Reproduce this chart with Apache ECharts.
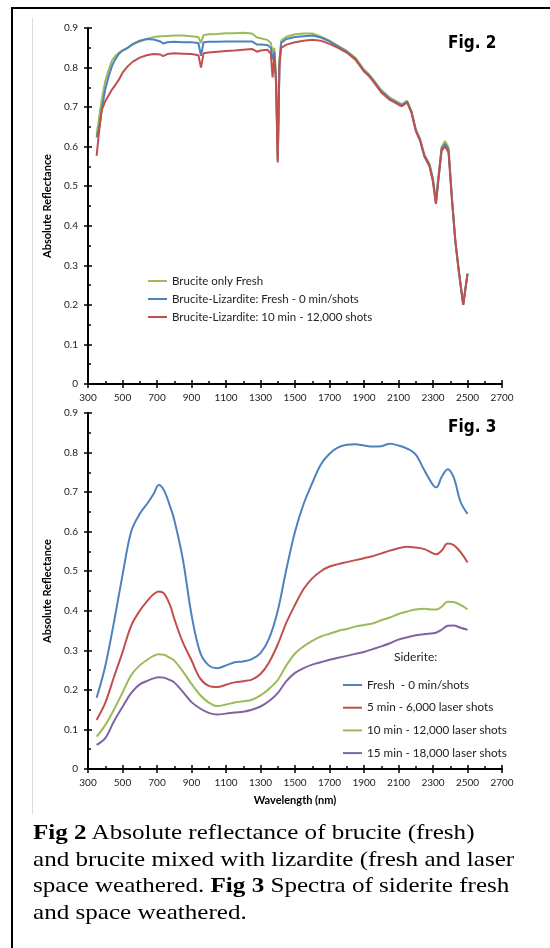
<!DOCTYPE html>
<html>
<head>
<meta charset="utf-8">
<script src="https://cdn.jsdelivr.net/npm/echarts@6/dist/echarts.min.js"></script>
<style>
html,body{margin:0;padding:0;background:#fff;}
#wrap{position:relative;width:550px;height:948px;overflow:hidden;}
#chart{position:absolute;left:0;top:0;width:550px;height:948px;}
#frameL{position:absolute;left:11px;top:7px;width:2px;height:941px;background:#000;}
#frameT{position:absolute;left:11px;top:7px;width:539px;height:2px;background:#000;}
#gray{position:absolute;left:32px;top:18px;width:1px;height:796px;background:#dcdcdc;}
#caption{position:absolute;left:33px;top:819px;width:460px;font-family:"Liberation Serif","Times New Roman",serif;font-size:22px;line-height:26.7px;color:#000;white-space:nowrap;transform:scaleX(1.14);transform-origin:0 0;}
</style>
</head>
<body>
<div id="wrap">
<div id="frameL"></div><div id="frameT"></div><div id="gray"></div>
<div id="chart"></div>
<div id="caption"><b>Fig 2</b> Absolute reflectance of brucite (fresh)<br>and brucite mixed with lizardite (fresh and laser<br>space weathered. <b>Fig 3</b> Spectra of siderite fresh<br>and space weathered.</div>
</div>
<script>
// ---------- Fig. 2 data ----------
const wl2 = [350,360,370,380,400,420,440,460,480,500,530,560,600,640,680,720,735,760,800,850,900,940,955,970,1000,1050,1100,1150,1200,1250,1280,1290,1300,1340,1360,1370,1380,1390,1400,1410,1420,1450,1500,1550,1600,1650,1700,1750,1800,1850,1900,1925,1950,2000,2050,2100,2120,2150,2175,2200,2225,2250,2280,2300,2317,2330,2350,2370,2390,2410,2430,2450,2475,2500];
const bruciteFresh = [0.63,0.66,0.69,0.72,0.765,0.795,0.818,0.83,0.838,0.843,0.85,0.858,0.866,0.872,0.877,0.879,0.879,0.88,0.881,0.881,0.879,0.877,0.862,0.882,0.884,0.885,0.887,0.887,0.888,0.886,0.876,0.873,0.874,0.87,0.862,0.84,0.85,0.78,0.57,0.82,0.868,0.878,0.884,0.886,0.886,0.878,0.868,0.855,0.842,0.825,0.795,0.785,0.772,0.743,0.724,0.712,0.707,0.716,0.69,0.645,0.62,0.58,0.556,0.52,0.46,0.52,0.6,0.614,0.598,0.47,0.36,0.285,0.2,0.28];
const lizFresh = [0.623,0.64,0.66,0.695,0.745,0.778,0.805,0.822,0.835,0.843,0.85,0.86,0.868,0.872,0.871,0.866,0.861,0.864,0.865,0.864,0.864,0.862,0.83,0.864,0.865,0.865,0.866,0.866,0.866,0.866,0.858,0.853,0.858,0.857,0.85,0.82,0.84,0.77,0.565,0.815,0.862,0.872,0.877,0.879,0.881,0.876,0.866,0.853,0.84,0.822,0.792,0.782,0.769,0.74,0.721,0.709,0.705,0.714,0.688,0.642,0.617,0.577,0.553,0.515,0.457,0.515,0.595,0.607,0.592,0.467,0.358,0.283,0.2,0.279];
const liz10min = [0.577,0.62,0.66,0.693,0.715,0.73,0.745,0.757,0.77,0.787,0.803,0.815,0.825,0.831,0.834,0.833,0.829,0.834,0.836,0.835,0.834,0.831,0.8,0.836,0.838,0.84,0.842,0.843,0.845,0.847,0.84,0.836,0.843,0.845,0.835,0.775,0.83,0.76,0.56,0.805,0.85,0.858,0.864,0.868,0.87,0.868,0.86,0.85,0.838,0.82,0.79,0.78,0.767,0.737,0.718,0.706,0.702,0.712,0.686,0.64,0.615,0.575,0.55,0.51,0.455,0.51,0.59,0.601,0.585,0.465,0.36,0.285,0.2,0.278];
const names2 = ['Brucite only Fresh','Brucite-Lizardite: Fresh - 0 min/shots','Brucite-Lizardite: 10 min - 12,000 shots'];

// ---------- Fig. 3 data ----------
const wl3 = [350,400,450,500,550,600,650,680,710,740,775,800,850,900,950,1000,1050,1100,1150,1200,1250,1300,1350,1400,1450,1500,1550,1600,1650,1700,1750,1800,1850,1900,1950,2000,2050,2100,2150,2200,2250,2300,2320,2350,2385,2420,2460,2500];
const sidFresh = [0.18,0.26,0.37,0.49,0.6,0.645,0.675,0.695,0.718,0.705,0.665,0.63,0.53,0.39,0.295,0.262,0.255,0.262,0.27,0.272,0.278,0.293,0.33,0.4,0.505,0.6,0.67,0.723,0.77,0.797,0.813,0.82,0.821,0.818,0.815,0.816,0.822,0.818,0.81,0.795,0.755,0.718,0.712,0.738,0.758,0.737,0.675,0.645];
const sid5 = [0.124,0.167,0.232,0.295,0.362,0.4,0.428,0.442,0.449,0.444,0.415,0.38,0.32,0.275,0.229,0.21,0.207,0.213,0.219,0.222,0.226,0.24,0.27,0.315,0.37,0.415,0.455,0.482,0.5,0.512,0.518,0.523,0.528,0.533,0.538,0.545,0.552,0.558,0.562,0.56,0.556,0.545,0.543,0.552,0.57,0.566,0.548,0.522];
const sid10 = [0.082,0.111,0.15,0.193,0.237,0.262,0.278,0.286,0.29,0.289,0.281,0.274,0.247,0.215,0.187,0.168,0.159,0.163,0.168,0.171,0.175,0.186,0.203,0.225,0.262,0.292,0.31,0.324,0.335,0.342,0.349,0.354,0.36,0.364,0.368,0.376,0.383,0.392,0.398,0.403,0.405,0.403,0.403,0.41,0.423,0.422,0.415,0.404];
const sid15 = [0.061,0.078,0.12,0.157,0.192,0.214,0.224,0.229,0.232,0.231,0.225,0.219,0.195,0.169,0.153,0.142,0.138,0.14,0.143,0.145,0.15,0.158,0.172,0.192,0.222,0.243,0.255,0.264,0.27,0.276,0.281,0.286,0.291,0.296,0.303,0.31,0.318,0.327,0.333,0.338,0.341,0.343,0.345,0.352,0.362,0.363,0.357,0.352];
const names3 = ['Fresh  - 0 min/shots','5 min - 6,000 laser shots','10 min - 12,000 laser shots','15 min - 18,000 laser shots'];

const xTicks = {min:300, max:2700, interval:200};
const yTicks = {min:0, max:0.9, interval:0.1};

const C = {green:'#9bbb59', blue:'#4f81bd', red:'#c0504d', purple:'#8064a2'};
const FONT = 'Lato';

function pairs(x, y){ return x.map((v,i)=>[v,y[i]]); }

function xAxesFor(gi, withName){
  const a = {type:'value', gridIndex:gi, position:'bottom', min:xTicks.min, max:xTicks.max, interval:xTicks.interval,
    axisLine:{show:true, onZero:false, lineStyle:{color:'#000', width:2}},
    axisTick:{show:true, inside:false, length:4, lineStyle:{color:'#000', width:1.5}},
    axisLabel:{fontSize:10, color:'#222', margin:9, fontFamily:FONT, formatter:v=>String(v)},
    splitLine:{show:false}};
  if (withName){
    a.name = 'Wavelength (nm)'; a.nameLocation = 'middle'; a.nameGap = 26;
    a.nameTextStyle = {fontSize:11, fontWeight:'bold', color:'#000', fontFamily:FONT};
  }
  const b = {type:'value', gridIndex:gi, position:'bottom', offset:0, min:xTicks.min, max:xTicks.max, interval:xTicks.interval,
    axisLine:{show:false, onZero:false}, axisLabel:{show:false}, splitLine:{show:false},
    axisTick:{show:true, inside:true, length:4, lineStyle:{color:'#000', width:1.5}},
    minorTick:{show:true, splitNumber:2, length:3, lineStyle:{color:'#000', width:1.5}}};
  return [a,b];
}
function yAxesFor(gi){
  const a = {type:'value', gridIndex:gi, position:'left', min:yTicks.min, max:yTicks.max, interval:yTicks.interval,
    axisLine:{show:true, onZero:false, lineStyle:{color:'#000', width:2}},
    axisTick:{show:true, inside:false, length:4, lineStyle:{color:'#000', width:1.5}},
    axisLabel:{fontSize:10, color:'#222', margin:10, fontFamily:FONT, formatter:v=> v===0?'0':v.toFixed(1)},
    splitLine:{show:false},
    name:'Absolute Reflectance', nameLocation:'middle', nameGap:31,
    nameTextStyle:{fontSize:11, fontWeight:'bold', color:'#000', fontFamily:FONT}};
  const b = {type:'value', gridIndex:gi, position:'left', offset:0, min:yTicks.min, max:yTicks.max, interval:yTicks.interval,
    axisLine:{show:false, onZero:false}, axisLabel:{show:false}, splitLine:{show:false},
    axisTick:{show:true, inside:true, length:4, lineStyle:{color:'#000', width:1.5}},
    minorTick:{show:true, splitNumber:2, length:3, lineStyle:{color:'#000', width:1.5}}};
  return [a,b];
}

function lineSeries(name, x, y, xi, yi, color, smooth){
  return {type:'line', name, data:pairs(x,y), xAxisIndex:xi, yAxisIndex:yi, showSymbol:false, symbol:'none',
    smooth:smooth, lineStyle:{color, width:2}, itemStyle:{color}, z:3};
}

const chart = echarts.init(document.getElementById('chart'), null, {renderer:'canvas'});
const option = {
  backgroundColor:'transparent',
  animation:false,
  grid:[
    {left:88, right:48, top:28, height:356},
    {left:88, right:48, top:413, height:356}
  ],
  xAxis:[...xAxesFor(0,false), ...xAxesFor(1,true)],
  yAxis:[...yAxesFor(0), ...yAxesFor(1)],
  legend:[
    {data:names2, orient:'vertical', left:143, top:269, itemWidth:19, itemHeight:2, itemGap:4, icon:'rect',
      textStyle:{fontSize:11.5, color:'#222', fontFamily:FONT, lineHeight:14}, selectedMode:false},
    {data:names3, orient:'vertical', left:338, top:673, itemWidth:19, itemHeight:2, itemGap:8.7, icon:'rect',
      textStyle:{fontSize:11.7, color:'#222', fontFamily:FONT, lineHeight:14}, selectedMode:false}
  ],
  graphic:[
    {type:'text', left:448, top:35, style:{text:'Fig. 2', font:'bold 17px "DejaVu Sans Condensed", "DejaVu Sans"', fill:'#000'}},
    {type:'text', left:448, top:419, style:{text:'Fig. 3', font:'bold 17px "DejaVu Sans Condensed", "DejaVu Sans"', fill:'#000'}},
    {type:'text', left:394, top:651, style:{text:'Siderite:', font:'12px Lato', fill:'#222'}}
  ],
  series:[
    lineSeries(names2[0], wl2, bruciteFresh, 0, 0, C.green, false),
    lineSeries(names2[1], wl2, lizFresh, 0, 0, C.blue, false),
    lineSeries(names2[2], wl2, liz10min, 0, 0, C.red, false),
    lineSeries(names3[0], wl3, sidFresh, 2, 2, C.blue, 0.35),
    lineSeries(names3[1], wl3, sid5, 2, 2, C.red, 0.35),
    lineSeries(names3[2], wl3, sid10, 2, 2, C.green, 0.35),
    lineSeries(names3[3], wl3, sid15, 2, 2, C.purple, 0.35)
  ]
};
chart.setOption(option);
</script>
</body>
</html>
